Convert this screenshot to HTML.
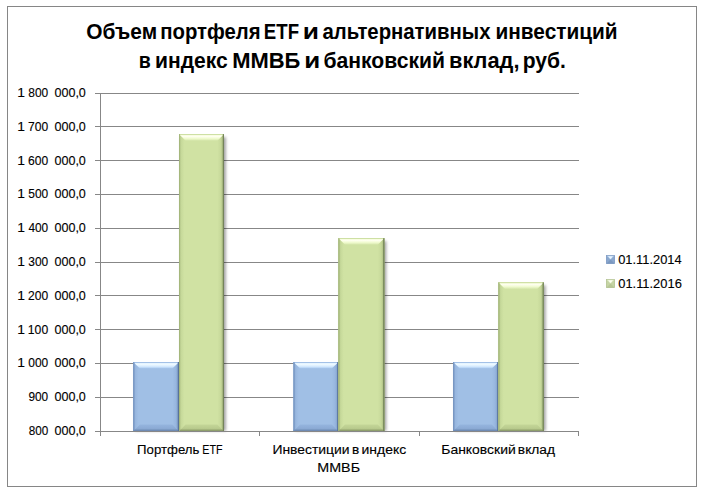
<!DOCTYPE html>
<html><head><meta charset="utf-8"><title>chart</title>
<style>
html,body{margin:0;padding:0;background:#fff;}
body{width:702px;height:494px;overflow:hidden;}
svg{display:block;}
text{font-family:"Liberation Sans",sans-serif;fill:#000;}
</style></head><body>
<svg width="702" height="494" viewBox="0 0 702 494">
<defs>
<filter id="sh" x="-20%" y="-5%" width="150%" height="110%"><feGaussianBlur stdDeviation="1.6"/></filter>
<linearGradient id="bhi" x1="0" y1="0" x2="0" y2="1"><stop offset="0" stop-color="#a6c6ec"/><stop offset="0.15" stop-color="#e0f1ff"/><stop offset="0.35" stop-color="#effaff"/><stop offset="0.65" stop-color="#d8ecff"/><stop offset="0.9" stop-color="#b4d2f4"/><stop offset="1" stop-color="#a5c4ea"/></linearGradient>
<linearGradient id="ghi" x1="0" y1="0" x2="0" y2="1"><stop offset="0" stop-color="#d6e7ac"/><stop offset="0.15" stop-color="#f6fcdc"/><stop offset="0.35" stop-color="#feffef"/><stop offset="0.65" stop-color="#f1fbd0"/><stop offset="0.9" stop-color="#deedb6"/><stop offset="1" stop-color="#d3e5a8"/></linearGradient>
<linearGradient id="bdk" x1="0" y1="0" x2="1" y2="0"><stop offset="0" stop-color="#a0bfe5"/><stop offset="0.5" stop-color="#98b7df"/><stop offset="0.8" stop-color="#86a5cf"/><stop offset="1" stop-color="#6c8ab5"/></linearGradient>
<linearGradient id="gdk" x1="0" y1="0" x2="1" y2="0"><stop offset="0" stop-color="#d0e2a3"/><stop offset="0.5" stop-color="#c7d99b"/><stop offset="0.8" stop-color="#b0c285"/><stop offset="1" stop-color="#8a9b66"/></linearGradient>
<linearGradient id="blt" x1="0" y1="0" x2="1" y2="0"><stop offset="0" stop-color="#7f9ec9"/><stop offset="0.35" stop-color="#98b7df"/><stop offset="0.8" stop-color="#a0bfe5"/><stop offset="1" stop-color="#a0bfe5"/></linearGradient>
<linearGradient id="glt" x1="0" y1="0" x2="1" y2="0"><stop offset="0" stop-color="#aabc80"/><stop offset="0.35" stop-color="#c6d99a"/><stop offset="0.8" stop-color="#d0e2a3"/><stop offset="1" stop-color="#d0e2a3"/></linearGradient>
<linearGradient id="bbt" x1="0" y1="0" x2="0" y2="1"><stop offset="0" stop-color="#95b5de"/><stop offset="0.6" stop-color="#8cabd5"/><stop offset="1" stop-color="#7896c0"/></linearGradient>
<linearGradient id="gbt" x1="0" y1="0" x2="0" y2="1"><stop offset="0" stop-color="#c4d698"/><stop offset="0.6" stop-color="#b9cb8e"/><stop offset="1" stop-color="#9fb078"/></linearGradient>
</defs>
<rect x="0" y="0" width="702" height="494" fill="#fff"/>
<rect x="7.5" y="6.5" width="689" height="480" fill="#fff" stroke="#868686" stroke-width="1"/>
<line x1="95" y1="93.5" x2="579" y2="93.5" stroke="#878787" stroke-width="1"/>
<line x1="95" y1="126.5" x2="579" y2="126.5" stroke="#878787" stroke-width="1"/>
<line x1="95" y1="160.5" x2="579" y2="160.5" stroke="#878787" stroke-width="1"/>
<line x1="95" y1="194.5" x2="579" y2="194.5" stroke="#878787" stroke-width="1"/>
<line x1="95" y1="228.5" x2="579" y2="228.5" stroke="#878787" stroke-width="1"/>
<line x1="95" y1="262.5" x2="579" y2="262.5" stroke="#878787" stroke-width="1"/>
<line x1="95" y1="295.5" x2="579" y2="295.5" stroke="#878787" stroke-width="1"/>
<line x1="95" y1="329.5" x2="579" y2="329.5" stroke="#878787" stroke-width="1"/>
<line x1="95" y1="363.5" x2="579" y2="363.5" stroke="#878787" stroke-width="1"/>
<line x1="95" y1="397.5" x2="579" y2="397.5" stroke="#878787" stroke-width="1"/>
<line x1="95" y1="431.5" x2="579" y2="431.5" stroke="#878787" stroke-width="1"/>
<line x1="100.5" y1="93" x2="100.5" y2="436" stroke="#878787" stroke-width="1"/>
<line x1="259.5" y1="431" x2="259.5" y2="436" stroke="#878787" stroke-width="1"/>
<line x1="419.5" y1="431" x2="419.5" y2="436" stroke="#878787" stroke-width="1"/>
<line x1="578.5" y1="431" x2="578.5" y2="436" stroke="#878787" stroke-width="1"/>
<rect x="180.90" y="137.1" width="45.00" height="293.9" fill="#000" opacity="0.36" filter="url(#sh)"/>
<rect x="135.20" y="365" width="45.70" height="66" fill="#000" opacity="0.36" filter="url(#sh)"/>
<rect x="133.30" y="362" width="45.70" height="69" fill="#a0bfe5"/>
<polygon points="133.30,362 139.90,368.6 139.90,424.4 133.30,431" fill="url(#blt)"/>
<polygon points="179.00,362 172.40,368.6 172.40,424.4 179.00,431" fill="url(#bdk)"/>
<polygon points="133.30,431 179.00,431 172.40,424.4 139.90,424.4" fill="url(#bbt)"/>
<polygon points="133.30,362 179.00,362 172.40,368.6 139.90,368.6" fill="url(#bhi)"/>
<rect x="133.30" y="362" width="45.70" height="0.8" fill="#9bbbe4"/>
<rect x="133.30" y="429.7" width="45.70" height="1.3" fill="#6f8bb4"/>
<rect x="133.30" y="362" width="1" height="69" fill="#7593bf"/>
<rect x="177.80" y="362" width="1.2" height="69" fill="#587399"/>
<rect x="179.00" y="134.1" width="45.00" height="296.9" fill="#d0e2a3"/>
<polygon points="179.00,134.1 185.60,140.7 185.60,424.4 179.00,431" fill="url(#glt)"/>
<polygon points="224.00,134.1 217.40,140.7 217.40,424.4 224.00,431" fill="url(#gdk)"/>
<polygon points="179.00,431 224.00,431 217.40,424.4 185.60,424.4" fill="url(#gbt)"/>
<polygon points="179.00,134.1 224.00,134.1 217.40,140.7 185.60,140.7" fill="url(#ghi)"/>
<rect x="179.00" y="134.1" width="45.00" height="0.8" fill="#cadc9d"/>
<rect x="179.00" y="429.7" width="45.00" height="1.3" fill="#8f9f6c"/>
<rect x="179.00" y="134.1" width="1" height="296.9" fill="#a5b77c"/>
<rect x="222.80" y="134.1" width="1.2" height="296.9" fill="#74845a"/>
<rect x="340.30" y="241.1" width="46.00" height="189.9" fill="#000" opacity="0.36" filter="url(#sh)"/>
<rect x="295.40" y="365" width="44.90" height="66" fill="#000" opacity="0.36" filter="url(#sh)"/>
<rect x="293.50" y="362" width="44.90" height="69" fill="#a0bfe5"/>
<polygon points="293.50,362 300.10,368.6 300.10,424.4 293.50,431" fill="url(#blt)"/>
<polygon points="338.40,362 331.80,368.6 331.80,424.4 338.40,431" fill="url(#bdk)"/>
<polygon points="293.50,431 338.40,431 331.80,424.4 300.10,424.4" fill="url(#bbt)"/>
<polygon points="293.50,362 338.40,362 331.80,368.6 300.10,368.6" fill="url(#bhi)"/>
<rect x="293.50" y="362" width="44.90" height="0.8" fill="#9bbbe4"/>
<rect x="293.50" y="429.7" width="44.90" height="1.3" fill="#6f8bb4"/>
<rect x="293.50" y="362" width="1" height="69" fill="#7593bf"/>
<rect x="337.20" y="362" width="1.2" height="69" fill="#587399"/>
<rect x="338.40" y="238.1" width="46.00" height="192.9" fill="#d0e2a3"/>
<polygon points="338.40,238.1 345.00,244.7 345.00,424.4 338.40,431" fill="url(#glt)"/>
<polygon points="384.40,238.1 377.80,244.7 377.80,424.4 384.40,431" fill="url(#gdk)"/>
<polygon points="338.40,431 384.40,431 377.80,424.4 345.00,424.4" fill="url(#gbt)"/>
<polygon points="338.40,238.1 384.40,238.1 377.80,244.7 345.00,244.7" fill="url(#ghi)"/>
<rect x="338.40" y="238.1" width="46.00" height="0.8" fill="#cadc9d"/>
<rect x="338.40" y="429.7" width="46.00" height="1.3" fill="#8f9f6c"/>
<rect x="338.40" y="238.1" width="1" height="192.9" fill="#a5b77c"/>
<rect x="383.20" y="238.1" width="1.2" height="192.9" fill="#74845a"/>
<rect x="500.30" y="285.3" width="45.40" height="145.7" fill="#000" opacity="0.36" filter="url(#sh)"/>
<rect x="455.10" y="365" width="45.20" height="66" fill="#000" opacity="0.36" filter="url(#sh)"/>
<rect x="453.20" y="362" width="45.20" height="69" fill="#a0bfe5"/>
<polygon points="453.20,362 459.80,368.6 459.80,424.4 453.20,431" fill="url(#blt)"/>
<polygon points="498.40,362 491.80,368.6 491.80,424.4 498.40,431" fill="url(#bdk)"/>
<polygon points="453.20,431 498.40,431 491.80,424.4 459.80,424.4" fill="url(#bbt)"/>
<polygon points="453.20,362 498.40,362 491.80,368.6 459.80,368.6" fill="url(#bhi)"/>
<rect x="453.20" y="362" width="45.20" height="0.8" fill="#9bbbe4"/>
<rect x="453.20" y="429.7" width="45.20" height="1.3" fill="#6f8bb4"/>
<rect x="453.20" y="362" width="1" height="69" fill="#7593bf"/>
<rect x="497.20" y="362" width="1.2" height="69" fill="#587399"/>
<rect x="498.40" y="282.3" width="45.40" height="148.7" fill="#d0e2a3"/>
<polygon points="498.40,282.3 505.00,288.90000000000003 505.00,424.4 498.40,431" fill="url(#glt)"/>
<polygon points="543.80,282.3 537.20,288.90000000000003 537.20,424.4 543.80,431" fill="url(#gdk)"/>
<polygon points="498.40,431 543.80,431 537.20,424.4 505.00,424.4" fill="url(#gbt)"/>
<polygon points="498.40,282.3 543.80,282.3 537.20,288.90000000000003 505.00,288.90000000000003" fill="url(#ghi)"/>
<rect x="498.40" y="282.3" width="45.40" height="0.8" fill="#cadc9d"/>
<rect x="498.40" y="429.7" width="45.40" height="1.3" fill="#8f9f6c"/>
<rect x="498.40" y="282.3" width="1" height="148.7" fill="#a5b77c"/>
<rect x="542.60" y="282.3" width="1.2" height="148.7" fill="#74845a"/>
<line x1="95" y1="431.5" x2="579" y2="431.5" stroke="#878787" stroke-width="1"/>
<rect x="606.3" y="255.3" width="8.4" height="8.4" fill="#8ba8cf"/><polygon points="606.3,255.3 606.3,263.7 610.5,259.5" fill="#8aa7ce"/><polygon points="614.6999999999999,255.3 614.6999999999999,263.7 610.5,259.5" fill="#8aa7ce"/><polygon points="606.3,263.7 614.6999999999999,263.7 610.5,259.5" fill="#7b98c0"/><polygon points="606.9,255.70000000000002 614.0999999999999,255.70000000000002 610.5,259.5" fill="#c4dbf3"/><polygon points="608.5,256.5 612.4999999999999,256.5 610.5,258.9" fill="#eaf5ff"/><rect x="606.5999999999999" y="255.60000000000002" width="7.800000000000001" height="7.800000000000001" fill="none" stroke="#7f9bc2" stroke-width="0.6"/>
<rect x="606.3" y="279.3" width="8.4" height="8.4" fill="#c9d8a9"/><polygon points="606.3,279.3 606.3,287.7 610.5,283.5" fill="#c5d4a4"/><polygon points="614.6999999999999,279.3 614.6999999999999,287.7 610.5,283.5" fill="#c5d4a4"/><polygon points="606.3,287.7 614.6999999999999,287.7 610.5,283.5" fill="#b8c796"/><polygon points="606.9,279.7 614.0999999999999,279.7 610.5,283.5" fill="#e6f0d0"/><polygon points="608.5,280.5 612.4999999999999,280.5 610.5,282.9" fill="#fdfff4"/><rect x="606.5999999999999" y="279.6" width="7.800000000000001" height="7.800000000000001" fill="none" stroke="#b1c092" stroke-width="0.6"/>
<text transform="matrix(0.9712 0 0 1 86.25 38.90)" font-size="21.5" font-weight="bold">Объем</text>
<text transform="matrix(0.9460 0 0 1 160.23 38.90)" font-size="21.5" font-weight="bold">портфеля</text>
<text transform="matrix(0.8662 0 0 1 263.84 38.90)" font-size="21.5" font-weight="bold">ETF</text>
<text transform="matrix(1.2291 0 0 1 302.75 38.90)" font-size="21.5" font-weight="bold">и</text>
<text transform="matrix(0.9455 0 0 1 322.48 38.90)" font-size="21.5" font-weight="bold">альтернативных</text>
<text transform="matrix(0.9679 0 0 1 495.50 38.90)" font-size="21.5" font-weight="bold">инвестиций</text>
<text transform="matrix(0.9111 0 0 1 138.78 68.30)" font-size="21.5" font-weight="bold">в</text>
<text transform="matrix(0.9812 0 0 1 154.98 68.30)" font-size="21.5" font-weight="bold">индекс</text>
<text transform="matrix(1.0219 0 0 1 232.13 68.30)" font-size="21.5" font-weight="bold">ММВБ</text>
<text transform="matrix(1.2099 0 0 1 304.37 68.30)" font-size="21.5" font-weight="bold">и</text>
<text transform="matrix(0.9832 0 0 1 323.44 68.30)" font-size="21.5" font-weight="bold">банковский</text>
<text transform="matrix(1.0140 0 0 1 449.04 68.30)" font-size="21.5" font-weight="bold">вклад,</text>
<text transform="matrix(0.9796 0 0 1 522.68 68.30)" font-size="21.5" font-weight="bold">руб.</text>
<text transform="matrix(1.1396 0 0 1 17.23 97.00)" font-size="12.2" stroke="#000" stroke-width="0.12">1</text>
<text transform="matrix(0.9812 0 0 1 28.23 97.00)" font-size="12.2" stroke="#000" stroke-width="0.12">800</text>
<text transform="matrix(1.0320 0 0 1 54.41 97.00)" font-size="12.2" stroke="#000" stroke-width="0.12">000,0</text>
<text transform="matrix(1.1396 0 0 1 17.23 130.80)" font-size="12.2" stroke="#000" stroke-width="0.12">1</text>
<text transform="matrix(0.9908 0 0 1 28.03 130.80)" font-size="12.2" stroke="#000" stroke-width="0.12">700</text>
<text transform="matrix(1.0320 0 0 1 54.41 130.80)" font-size="12.2" stroke="#000" stroke-width="0.12">000,0</text>
<text transform="matrix(1.1396 0 0 1 17.23 164.60)" font-size="12.2" stroke="#000" stroke-width="0.12">1</text>
<text transform="matrix(0.9908 0 0 1 28.03 164.60)" font-size="12.2" stroke="#000" stroke-width="0.12">600</text>
<text transform="matrix(1.0320 0 0 1 54.41 164.60)" font-size="12.2" stroke="#000" stroke-width="0.12">000,0</text>
<text transform="matrix(1.1396 0 0 1 17.23 198.40)" font-size="12.2" stroke="#000" stroke-width="0.12">1</text>
<text transform="matrix(0.9812 0 0 1 28.23 198.40)" font-size="12.2" stroke="#000" stroke-width="0.12">500</text>
<text transform="matrix(1.0320 0 0 1 54.41 198.40)" font-size="12.2" stroke="#000" stroke-width="0.12">000,0</text>
<text transform="matrix(1.1396 0 0 1 17.23 232.20)" font-size="12.2" stroke="#000" stroke-width="0.12">1</text>
<text transform="matrix(0.9718 0 0 1 28.41 232.20)" font-size="12.2" stroke="#000" stroke-width="0.12">400</text>
<text transform="matrix(1.0320 0 0 1 54.41 232.20)" font-size="12.2" stroke="#000" stroke-width="0.12">000,0</text>
<text transform="matrix(1.1396 0 0 1 17.23 266.00)" font-size="12.2" stroke="#000" stroke-width="0.12">1</text>
<text transform="matrix(0.9812 0 0 1 28.23 266.00)" font-size="12.2" stroke="#000" stroke-width="0.12">300</text>
<text transform="matrix(1.0320 0 0 1 54.41 266.00)" font-size="12.2" stroke="#000" stroke-width="0.12">000,0</text>
<text transform="matrix(1.1396 0 0 1 17.23 299.80)" font-size="12.2" stroke="#000" stroke-width="0.12">1</text>
<text transform="matrix(0.9908 0 0 1 28.03 299.80)" font-size="12.2" stroke="#000" stroke-width="0.12">200</text>
<text transform="matrix(1.0320 0 0 1 54.41 299.80)" font-size="12.2" stroke="#000" stroke-width="0.12">000,0</text>
<text transform="matrix(1.1396 0 0 1 17.23 333.60)" font-size="12.2" stroke="#000" stroke-width="0.12">1</text>
<text transform="matrix(1.0006 0 0 1 27.84 333.60)" font-size="12.2" stroke="#000" stroke-width="0.12">100</text>
<text transform="matrix(1.0320 0 0 1 54.41 333.60)" font-size="12.2" stroke="#000" stroke-width="0.12">000,0</text>
<text transform="matrix(1.1396 0 0 1 17.23 367.40)" font-size="12.2" stroke="#000" stroke-width="0.12">1</text>
<text transform="matrix(0.9812 0 0 1 28.23 367.40)" font-size="12.2" stroke="#000" stroke-width="0.12">000</text>
<text transform="matrix(1.0320 0 0 1 54.41 367.40)" font-size="12.2" stroke="#000" stroke-width="0.12">000,0</text>
<text transform="matrix(0.9703 0 0 1 28.45 401.20)" font-size="12.2" stroke="#000" stroke-width="0.12">900</text>
<text transform="matrix(1.0320 0 0 1 54.41 401.20)" font-size="12.2" stroke="#000" stroke-width="0.12">000,0</text>
<text transform="matrix(0.9608 0 0 1 28.63 435.00)" font-size="12.2" stroke="#000" stroke-width="0.12">800</text>
<text transform="matrix(1.0320 0 0 1 54.41 435.00)" font-size="12.2" stroke="#000" stroke-width="0.12">000,0</text>
<text transform="matrix(1.0758 0 0 1 137.07 454.00)" font-size="12.3" stroke="#000" stroke-width="0.12">Портфель</text>
<text transform="matrix(0.8734 0 0 1 202.26 454.00)" font-size="12.3" stroke="#000" stroke-width="0.12">ETF</text>
<text transform="matrix(1.1301 0 0 1 272.41 454.00)" font-size="12.3" stroke="#000" stroke-width="0.12">Инвестиции</text>
<text transform="matrix(1.1150 0 0 1 351.94 454.00)" font-size="12.3" stroke="#000" stroke-width="0.12">в</text>
<text transform="matrix(1.1357 0 0 1 361.53 454.00)" font-size="12.3" stroke="#000" stroke-width="0.12">индекс</text>
<text transform="matrix(1.1638 0 0 1 317.28 471.50)" font-size="12.3" stroke="#000" stroke-width="0.12">ММВБ</text>
<text transform="matrix(1.1334 0 0 1 441.31 454.00)" font-size="12.3" stroke="#000" stroke-width="0.12">Банковский</text>
<text transform="matrix(1.1199 0 0 1 517.84 454.00)" font-size="12.3" stroke="#000" stroke-width="0.12">вклад</text>
<text transform="matrix(1.0560 0 0 1 618.20 263.80)" font-size="12.2" stroke="#000" stroke-width="0.12">01.11.2014</text>
<text transform="matrix(1.0594 0 0 1 618.20 287.80)" font-size="12.2" stroke="#000" stroke-width="0.12">01.11.2016</text>
</svg>
</body></html>
